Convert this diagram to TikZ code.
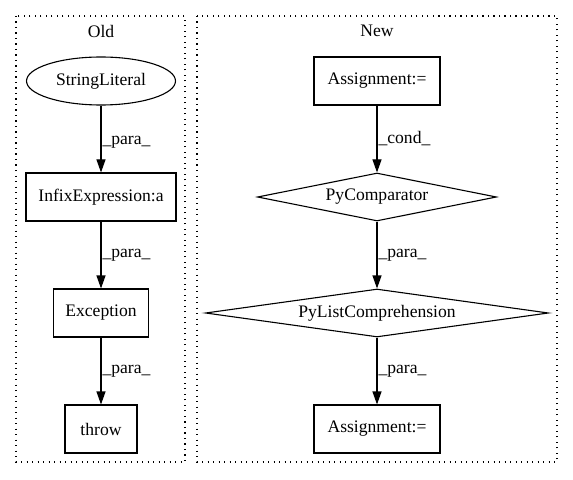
\documentclass[tikz,border=0pt]{standalone}
\usepackage{fontspec}
\setmainfont{Liberation Serif}
\usetikzlibrary{shapes.geometric,arrows.meta}
\begin{document}
\begin{tikzpicture}[x=1bp,y=-1bp,
  every node/.style={font=\fontsize{17.6bp}{20bp}\selectfont, inner sep=0pt},
  box/.style={draw, line width=1.1bp, rectangle, minimum height=48bp},
  oval/.style={draw, line width=1.1bp, ellipse, minimum height=48bp},
  dia/.style={draw, line width=1.1bp, diamond, aspect=5, minimum height=48bp},
  cluster/.style={draw, line width=1.1bp, dash pattern=on 1.3bp off 4.2bp},
  edge/.style={draw, line width=1.1bp, -{Triangle[length=13bp,width=9bp]}},
  elabel/.style={anchor=west}]
\useasboundingbox (0,0) rectangle (573,480);
\draw[cluster] (16,16) rectangle (185,462);
\draw[cluster] (197,16) rectangle (557,462);
\node (oldt) at (101,31) {Old};
\node (newt) at (377,31) {New};
% Old
\node[oval, minimum width=149bp] (sl) at (101,81) {StringLiteral};
\node[box, minimum width=150bp] (ie) at (101,197) {InfixExpression:a};
\node[box, minimum width=95bp] (ex) at (101,313) {Exception};
\node[box, minimum width=72bp] (th) at (101,429) {throw};
\draw[edge] (sl) -- node[elabel, pos=0.55, xshift=1bp] {\_para\_} (ie);
\draw[edge] (ie) -- node[elabel, pos=0.5, xshift=1bp] {\_para\_} (ex);
\draw[edge] (ex) -- node[elabel, pos=0.5, xshift=1bp] {\_para\_} (th);
% New
\node[box, minimum width=126bp] (a1) at (377,81) {Assignment:=};
\node[dia, minimum width=239bp] (pc) at (377,197) {PyComparator};
\node[dia, minimum width=343bp] (pl) at (377,313) {PyListComprehension};
\node[box, minimum width=126bp] (a2) at (377,429) {Assignment:=};
\draw[edge] (a1) -- node[elabel, pos=0.5, xshift=1bp] {\_cond\_} (pc);
\draw[edge] (pc) -- node[elabel, pos=0.5, xshift=1bp] {\_para\_} (pl);
\draw[edge] (pl) -- node[elabel, pos=0.5, xshift=1bp] {\_para\_} (a2);
\end{tikzpicture}
\end{document}
